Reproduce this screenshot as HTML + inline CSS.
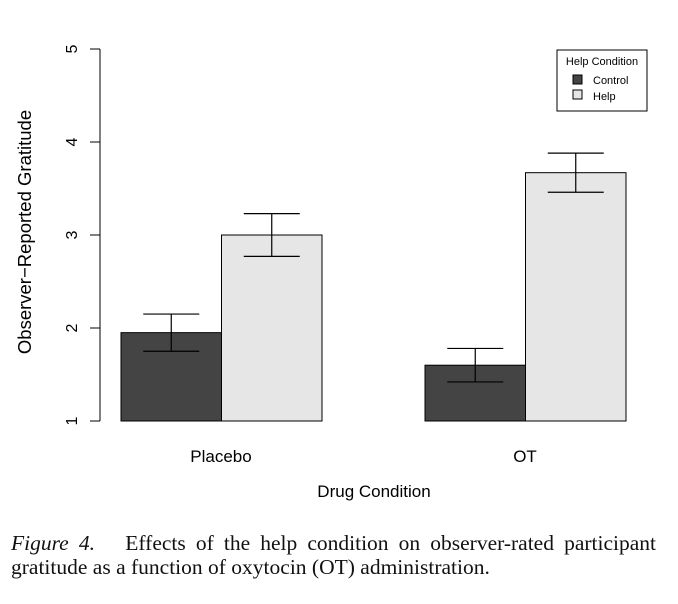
<!DOCTYPE html>
<html><head><meta charset="utf-8"><style>
body{margin:0;background:#fff;width:678px;height:604px;overflow:hidden}
svg text{font-family:"Liberation Sans",sans-serif}
.cap{position:absolute;left:11px;top:531px;width:645px;font-family:"Liberation Serif",serif;font-size:21.5px;line-height:24px;color:#111}
.l1{text-align:justify;text-align-last:justify;white-space:nowrap}
</style></head><body>
<svg width="678" height="604" style="position:absolute;left:0;top:0" id="c">
<g id="yaxis"></g>
<g id="bars"></g>
<text x="221" y="462" font-size="17" text-anchor="middle">Placebo</text>
<text x="525" y="462" font-size="17" text-anchor="middle">OT</text>
<text x="374" y="497" font-size="17" text-anchor="middle">Drug Condition</text>
<text transform="translate(31,232) rotate(-90)" font-size="18.5" text-anchor="middle">Observer−Reported Gratitude</text>
<g>
<rect x="557" y="50" width="90" height="61" fill="#fff" stroke="#000" stroke-width="1"/>
<text x="602" y="65" font-size="11" text-anchor="middle">Help Condition</text>
<rect x="573" y="75" width="9" height="9" fill="#444" stroke="#000"/>
<text x="593" y="84" font-size="11">Control</text>
<rect x="573" y="90" width="9" height="9" fill="#e6e6e6" stroke="#000"/>
<text x="593" y="100" font-size="11">Help</text>
</g>
</svg>
<div class="cap"><div class="l1"><i>Figure 4.</i>&nbsp;&nbsp; Effects of the help condition on observer-rated participant</div><div>gratitude as a function of oxytocin (OT) administration.</div></div>
<script>
const groups=["Placebo","OT"];
const controlVals=[1.95,1.6];
const helpVals=[3.0,3.67];
const controlErr=[0.2,0.18];
const helpErr=[0.23,0.21];
const yTicks=[1,2,3,4,5];
const NS="http://www.w3.org/2000/svg";
function y(v){return 421-(v-1)*93;}
function el(t,a,p){const e=document.createElementNS(NS,t);for(const k in a)e.setAttribute(k,a[k]);p.appendChild(e);return e;}
const ya=document.getElementById('yaxis');
el('line',{x1:100,x2:100,y1:y(yTicks[0]),y2:y(yTicks[yTicks.length-1]),stroke:'#000'},ya);
yTicks.forEach(t=>{
  el('line',{x1:90,x2:100,y1:y(t),y2:y(t),stroke:'#000'},ya);
  const tx=el('text',{transform:`translate(77,${y(t)}) rotate(-90)`,'font-size':16,'text-anchor':'middle'},ya);
  tx.textContent=t;
  
  
});
const bg=document.getElementById('bars');
const gx=[121,425],bw=100.5;
groups.forEach((g,i)=>{
  [[controlVals,controlErr,'#444','control'],[helpVals,helpErr,'#e6e6e6','help']].forEach((s,j)=>{
    const v=s[0][i],e=s[1][i],x=gx[i]+j*bw;
    const r=el('rect',{x:x,y:y(v),width:bw,height:y(1)-y(v),fill:s[2],stroke:'#000','stroke-width':1},bg);
    
    
    const cx=x+bw/2;
    const eb=el('g',{stroke:'#000','stroke-width':1.2},bg);
    
    
    el('line',{x1:cx,x2:cx,y1:y(v-e),y2:y(v+e)},eb);
    el('line',{x1:cx-28,x2:cx+28,y1:y(v-e),y2:y(v-e)},eb);
    el('line',{x1:cx-28,x2:cx+28,y1:y(v+e),y2:y(v+e)},eb);
  });
});
</script>
</body></html>
